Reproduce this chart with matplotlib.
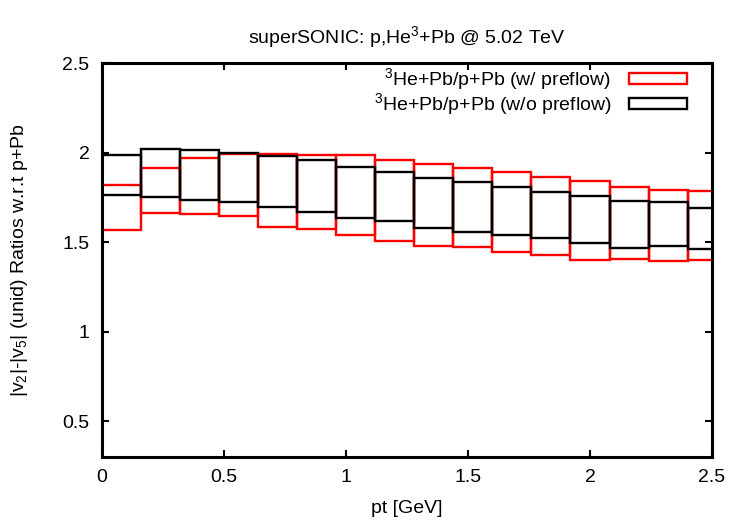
import numpy as np
import matplotlib
matplotlib.use("Agg")
import matplotlib.pyplot as plt
from matplotlib.patches import Patch

plt.rcParams["font.family"] = ["Liberation Sans", "DejaVu Sans"]
plt.rcParams["mathtext.fontset"] = "custom"
plt.rcParams["mathtext.rm"] = "Liberation Sans"
plt.rcParams["mathtext.it"] = "Liberation Sans"

# pt bins (left edges), width 0.16 GeV
pt_left = [0.00, 0.16, 0.32, 0.48, 0.64, 0.80, 0.96, 1.12,
           1.28, 1.44, 1.60, 1.76, 1.92, 2.08, 2.24, 2.40]
bin_width = 0.16

# 3He+Pb / p+Pb, with preflow (red band)
pre_hi = [1.817, 1.911, 1.969, 1.991, 1.993, 1.987, 1.984, 1.961,
          1.935, 1.913, 1.891, 1.861, 1.839, 1.808, 1.793, 1.785]
pre_lo = [1.567, 1.663, 1.658, 1.647, 1.585, 1.572, 1.541, 1.504,
          1.480, 1.470, 1.447, 1.430, 1.398, 1.404, 1.393, 1.402]

# 3He+Pb / p+Pb, without preflow (black band)
nopre_hi = [1.987, 2.019, 2.015, 2.000, 1.982, 1.959, 1.919, 1.891,
            1.856, 1.833, 1.808, 1.782, 1.756, 1.730, 1.726, 1.693]
nopre_lo = [1.761, 1.754, 1.737, 1.724, 1.697, 1.667, 1.635, 1.615,
            1.578, 1.559, 1.537, 1.522, 1.493, 1.465, 1.478, 1.460]

fig = plt.figure(figsize=(7.5, 5.25), dpi=100)
ax = fig.add_axes([102 / 750, 1 - 457 / 525, 610 / 750, 394 / 525])

def band(lo, hi, color):
    lo = np.array(lo)
    hi = np.array(hi)
    ax.bar(pt_left, hi - lo, width=bin_width, bottom=lo, align="edge",
           fill=False, edgecolor=color, linewidth=1.7)

band(pre_lo, pre_hi, "#ff0000")
band(nopre_lo, nopre_hi, "black")

ax.set_xlim(0, 2.5)
ax.set_ylim(0.3, 2.5)
ax.set_xticks([0, 0.5, 1, 1.5, 2, 2.5])
ax.set_xticklabels(["0", "0.5", "1", "1.5", "2", "2.5"])
ax.set_yticks([0.5, 1, 1.5, 2, 2.5])
ax.set_yticklabels(["0.5", "1", "1.5", "2", "2.5"])
ax.tick_params(direction="in", top=True, right=True, length=5, width=1.5,
               labelsize=14, pad=9)
for s in ax.spines.values():
    s.set_linewidth(2.2)

ax.set_title("superSONIC: p,He$^3$+Pb @ 5.02 TeV", fontsize=14, pad=14)
ax.set_xlabel("pt [GeV]", fontsize=14, labelpad=10)
ax.set_ylabel("|v$_2$|-|v$_5$| (unid) Ratios w.r.t p+Pb", fontsize=14, labelpad=23)

handles = [Patch(facecolor="none", edgecolor="#ff0000", linewidth=1.7),
           Patch(facecolor="none", edgecolor="black", linewidth=1.7)]
labels = ["$^3$He+Pb/p+Pb (w/ preflow)", "$^3$He+Pb/p+Pb (w/o preflow)"]
ax.legend(handles, labels, loc="upper right", frameon=False, markerfirst=False,
          fontsize=14, handlelength=3.0, handleheight=0.5, labelspacing=-0.05,
          handletextpad=0.9, borderaxespad=0.0, bbox_to_anchor=(0.972, 1.012))

fig.savefig("out.png", dpi=100)
